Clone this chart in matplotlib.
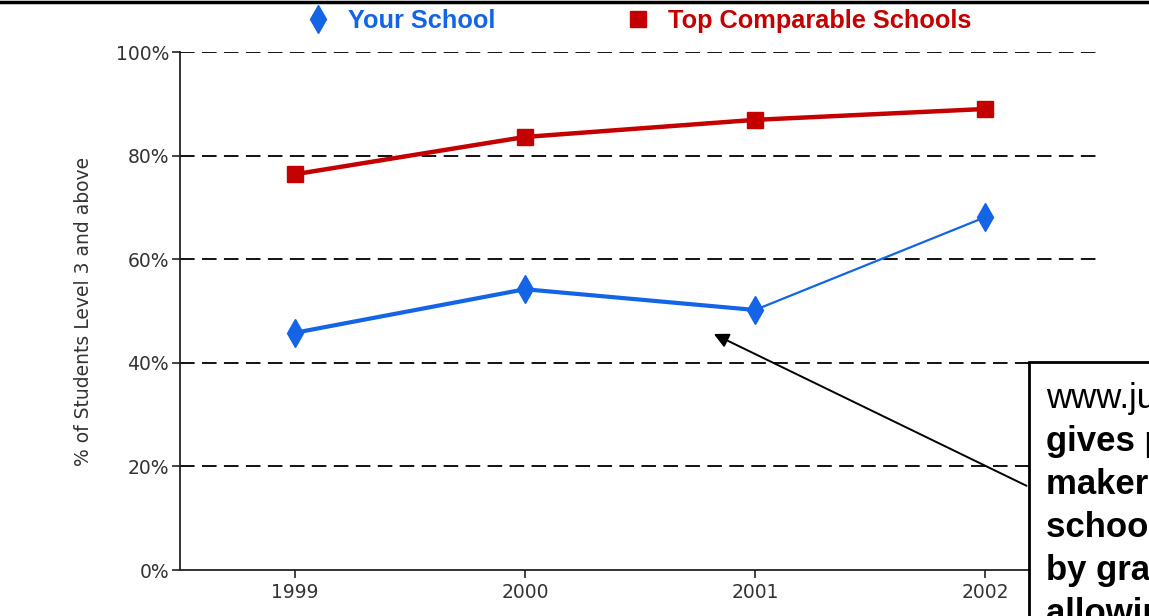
import matplotlib
matplotlib.use("Agg")
import matplotlib.pyplot as plt
from matplotlib.lines import Line2D
from matplotlib.patches import Rectangle

# Data
years = [1999, 2000, 2001, 2002]
your_school = [45.8, 54.2, 50.2, 68.1]
top_schools = [76.4, 83.6, 86.9, 89.0]
y_ticks = [0, 20, 40, 60, 80, 100]
y_tick_labels = ["0%", "20%", "40%", "60%", "80%", "100%"]

blue = "#1464e6"
red = "#c40000"

fig = plt.figure(figsize=(11.49, 6.16), dpi=100)
ax = fig.add_axes([180 / 1149, 1 - 570 / 616, 920 / 1149, 518 / 616])

# dashed horizontal grid
for yv in y_ticks[1:]:
    ax.axhline(yv, color="#111111", lw=1.4, dashes=(7.5, 3.8), zorder=1)

# series
ax.plot(years, top_schools, color=red, lw=3.2, marker="s", markersize=11.5, zorder=3)
ax.plot(years[:3], your_school[:3], color=blue, lw=3, zorder=3)
ax.plot(years[2:], your_school[2:], color=blue, lw=1.6, zorder=3)
ax.plot(years, your_school, ls="none", marker="d", color=blue, markersize=14, zorder=4)

ax.set_xlim(1998.5, 2002.5)
ax.set_ylim(0, 100)
ax.set_xticks(years)
ax.set_xticklabels([str(y) for y in years])
ax.set_yticks(y_ticks)
ax.set_yticklabels(y_tick_labels)
ax.tick_params(labelsize=13.5, labelcolor="#333333", length=6, width=1.2, color="#222222")
ax.tick_params(axis="y", pad=2)
for s in ["top", "right"]:
    ax.spines[s].set_visible(False)
for s in ["left", "bottom"]:
    ax.spines[s].set_linewidth(1.3)
    ax.spines[s].set_color("#222222")
ax.set_ylabel("% of Students Level 3 and above", fontsize=13.5, color="#333333", labelpad=16)

# legend at the top
handles = [
    Line2D([], [], ls="none", marker="d", color=blue, markersize=14),
    Line2D([], [], ls="none", marker="s", color=red, markersize=12),
]
leg = fig.legend(handles, ["Your School", "Top Comparable Schools"], ncol=2, frameon=False,
                 loc="center", bbox_to_anchor=(637 / 1149, 1 - 21 / 616),
                 prop={"family": "Liberation Sans", "weight": "bold", "size": 18.3},
                 columnspacing=5.0, handletextpad=0.6, handlelength=1.2)
for txt, c in zip(leg.get_texts(), [blue, red]):
    txt.set_color(c)

# black rule across the top
fig.add_artist(Line2D([0, 1], [1 - 2 / 616, 1 - 2 / 616], transform=fig.transFigure,
                      color="black", lw=2.5))

# callout box (cut off by the right and bottom edge, as in the source)
box_x = 1029 / 1149
box_top = 1 - 362 / 616
fig.add_artist(Rectangle((box_x, -0.05), 0.3, box_top + 0.05, transform=fig.transFigure,
                         facecolor="white", edgecolor="black", lw=2, zorder=5))
fig.text(1046 / 1149, 1 - 382 / 616, "www.just4kids.org", fontsize=25, family="Liberation Sans",
         va="top", ha="left", zorder=6)
fig.text(1046 / 1149, 1 - 425 / 616,
         "gives policy\nmakers and\nschools data\nby grade level,\nallowing",
         fontsize=25, family="Liberation Sans", weight="bold", va="top", ha="left",
         linespacing=1.38, zorder=6)

ax.annotate("", xy=(2000.81, 45.8), xycoords="data",
            xytext=(box_x, 1 - 487 / 616), textcoords="figure fraction",
            arrowprops=dict(arrowstyle="-|>", color="black", lw=1.4, mutation_scale=22),
            annotation_clip=False, zorder=6)

fig.savefig("out.png", dpi=100)
